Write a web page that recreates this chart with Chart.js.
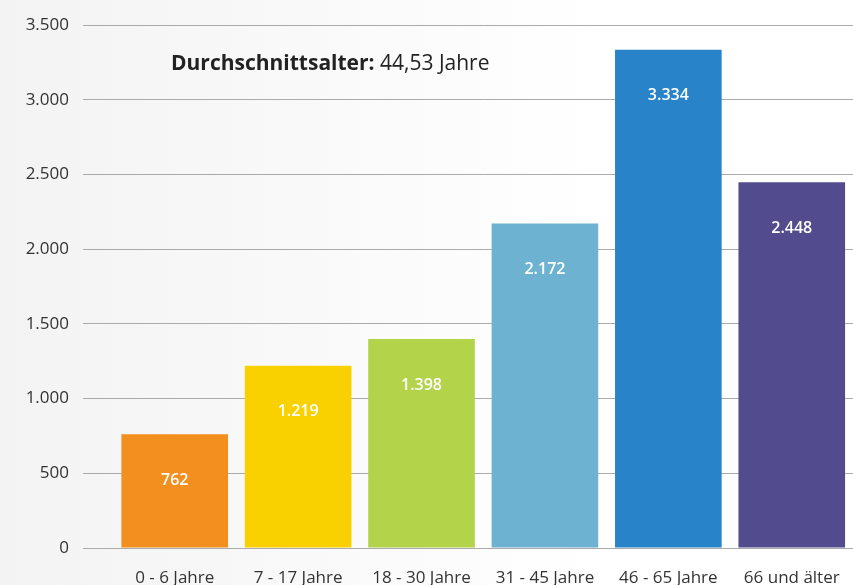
<!DOCTYPE html>
<html>
<head>
<meta charset="utf-8">
<script src="https://cdn.jsdelivr.net/npm/chart.js@4"></script>
<style>
    html, body { margin: 0; padding: 0; overflow: hidden; }
    body {
        width: 853px; height: 585px;
        background: linear-gradient(to right, #f3f3f3 0%, #f9f9f9 35%, #ffffff 70%);
    }
    #wrap { width: 860px; height: 585px; }
</style>
</head>
<body>
<div id="wrap"><canvas id="ageChart" width="860" height="585"></canvas></div>
<script>
// Altersstruktur

const ageGroups = ['0 - 6 Jahre', '7 - 17 Jahre', '18 - 30 Jahre', '31 - 45 Jahre', '46 - 65 Jahre', '66 und älter'];
const persons = [762, 1219, 1398, 2172, 3334, 2448];
const barColors = ['#f28f1e', '#f9d100', '#b2d34a', '#6eb2d2', '#2983c8', '#524b8d'];
const yTicks = [0, 500, 1000, 1500, 2000, 2500, 3000, 3500];
const avgLabel = 'Durchschnittsalter:';
const avgValue = '44,53 Jahre';

const fontFamily = '"Open Sans", "Noto Sans", sans-serif';

function formatDE(v) {
    return String(v).replace(/\B(?=(\d{3})+(?!\d))/g, '.');
}

// white value labels inside the bars + average age text
const extras = {
    id: 'extras',
    afterDatasetsDraw(chart) {
        const ctx = chart.ctx;
        const meta = chart.getDatasetMeta(0);
        ctx.save();
        ctx.fillStyle = '#ffffff';
        ctx.font = '600 16px ' + fontFamily;
        ctx.textAlign = 'center';
        ctx.textBaseline = 'middle';
        meta.data.forEach((bar, i) => {
            ctx.fillText(formatDE(persons[i]), bar.x, bar.y + 46);
        });

        ctx.textAlign = 'left';
        ctx.textBaseline = 'alphabetic';
        ctx.fillStyle = '#222222';
        ctx.font = 'bold 21px ' + fontFamily;
        ctx.fillText(avgLabel, 171, 70);
        const w = ctx.measureText(avgLabel + ' ').width;
        ctx.font = '21px ' + fontFamily;
        ctx.fillText(avgValue, 171 + w, 70);
        ctx.restore();
    }
};

const ctx = document.getElementById('ageChart').getContext('2d');
new Chart(ctx, {
    type: 'bar',
    data: {
        labels: ageGroups,
        datasets: [{
            data: persons,
            backgroundColor: barColors,
            barPercentage: 0.864,
            categoryPercentage: 1.0
        }]
    },
    options: {
        responsive: false,
        animation: false,
        layout: { padding: { top: 25, right: 4, left: 0, bottom: 0 } },
        plugins: {
            legend: { display: false },
            tooltip: { enabled: false }
        },
        scales: {
            x: {
                afterFit(scale) { scale.height = 37; },
                grid: { display: false, drawTicks: false },
                border: { display: false },
                ticks: {
                    color: '#333333',
                    padding: 20,
                    maxRotation: 0,
                    font: { family: fontFamily, size: 17 }
                }
            },
            y: {
                min: 0,
                max: 3500,
                afterFit(scale) { scale.width = 113; },
                afterBuildTicks(scale) { scale.ticks = yTicks.map(v => ({ value: v })); },
                grid: {
                    color: '#ababab',
                    lineWidth: 1,
                    tickLength: 30,
                    tickColor: '#ababab'
                },
                border: { display: false },
                ticks: {
                    color: '#333333',
                    padding: 14,
                    font: { family: fontFamily, size: 17 },
                    callback: v => formatDE(v)
                }
            }
        }
    },
    plugins: [extras]
});
</script>
</body>
</html>
